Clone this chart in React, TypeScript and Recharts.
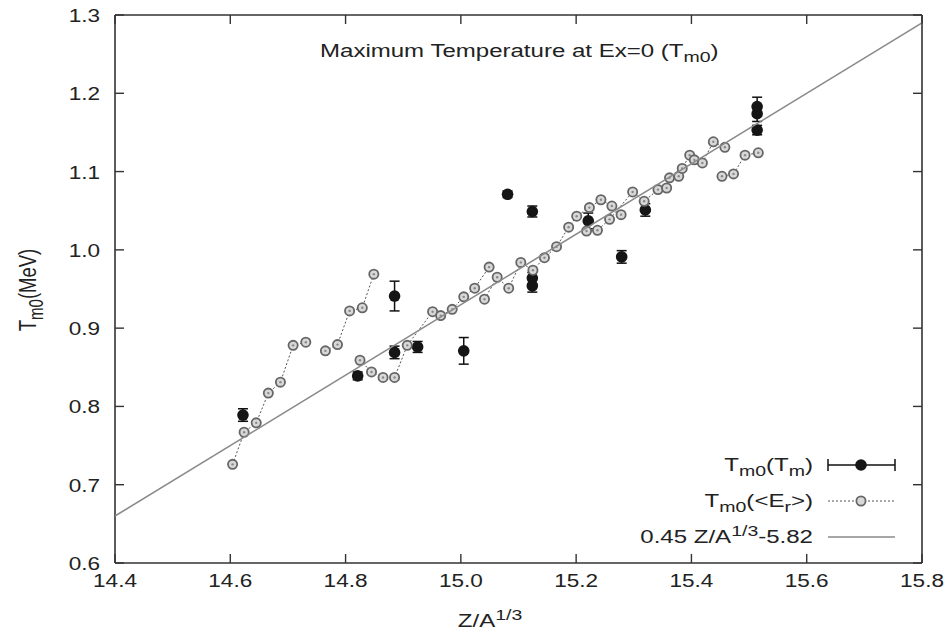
import React from 'react';
import { ScatterChart, Scatter, XAxis, YAxis, ErrorBar } from 'recharts';

document.body.style.margin = '0';

// Tm0 from Tm (closed points with error bars)
const tmX = [14.622, 14.821, 14.885, 14.885, 14.925, 15.005, 15.081, 15.124, 15.124, 15.124, 15.221, 15.279, 15.32, 15.514, 15.514, 15.514];
const tmY = [0.789, 0.839, 0.941, 0.869, 0.876, 0.871, 1.071, 1.049, 0.964, 0.954, 1.037, 0.991, 1.051, 1.183, 1.174, 1.153];
const tmErr = [0.008, 0.005, 0.019, 0.008, 0.007, 0.017, 0.004, 0.007, 0.007, 0.008, 0.01, 0.008, 0.008, 0.012, 0.01, 0.006];

// Tm0 from <Er> (open points, joined isotope chains)
const chainA = [[14.604, 0.726], [14.624, 0.767], [14.645, 0.779], [14.666, 0.817], [14.687, 0.831], [14.709, 0.878], [14.731, 0.882]];
const chainB = [[14.765, 0.871], [14.786, 0.879], [14.807, 0.922], [14.829, 0.926], [14.849, 0.969]];
const chainC = [[14.825, 0.859], [14.845, 0.844], [14.865, 0.837], [14.885, 0.837], [14.907, 0.878], [14.951, 0.921], [14.965, 0.916], [14.985, 0.924], [15.005, 0.94], [15.024, 0.951], [15.049, 0.978]];
const chainD = [[15.041, 0.937], [15.063, 0.965], [15.083, 0.951], [15.104, 0.984], [15.125, 0.974], [15.145, 0.99], [15.166, 1.004], [15.187, 1.029], [15.201, 1.043], [15.223, 1.054], [15.243, 1.064], [15.262, 1.056], [15.278, 1.045]];
const chainE = [[15.218, 1.024], [15.237, 1.025], [15.258, 1.039], [15.298, 1.074], [15.318, 1.062], [15.342, 1.077], [15.357, 1.079], [15.362, 1.092], [15.378, 1.094], [15.384, 1.104], [15.397, 1.121], [15.405, 1.115], [15.419, 1.111], [15.438, 1.138], [15.458, 1.131]];
const chainF = [[15.453, 1.094], [15.473, 1.097], [15.493, 1.121], [15.516, 1.124]];

// 0.45 Z/A^1/3 - 5.82 end points
const fitLine = [[14.4, 0.66], [15.8, 1.29]];

const xTicks = [14.4, 14.6, 14.8, 15.0, 15.2, 15.4, 15.6, 15.8];
const yTicks = [0.6, 0.7, 0.8, 0.9, 1.0, 1.1, 1.2, 1.3];

const closedData = tmX.map((x, i) => ({ x, y: tmY[i], err: tmErr[i] }));
const toPts = (arr: number[][]) => arr.map(([x, y]) => ({ x, y }));
const chains = [chainA, chainB, chainC, chainD, chainE, chainF].map(toPts);

const FONT = '"Liberation Sans", Arial, Helvetica, sans-serif';
const FS = 18.5;
const TICK = 9;
const FRAME = '#333';

function Txt({ x, y, anchor = 'start', rotate = 0, sx = 1.22, size = FS, children }: any) {
  const scale = rotate ? `scale(1,${sx})` : `scale(${sx},1)`;
  return (
    <text
      transform={`translate(${x},${y})${rotate ? ` rotate(${rotate})` : ''} ${scale}`}
      textAnchor={anchor}
      fontSize={size}
      fontFamily={FONT}
      fill="#222"
    >
      {children}
    </text>
  );
}

function BottomTick(props: any) {
  const { x, y, payload } = props;
  return (
    <g>
      <line x1={x} y1={y} x2={x} y2={y - TICK} stroke={FRAME} strokeWidth={1.4} />
      <Txt x={x} y={y + 24} anchor="middle">{Number(payload.value).toFixed(1)}</Txt>
    </g>
  );
}
function TopTick(props: any) {
  const { x, y } = props;
  return <line x1={x} y1={y} x2={x} y2={y + TICK} stroke={FRAME} strokeWidth={1.4} />;
}
function LeftTick(props: any) {
  const { x, y, payload } = props;
  return (
    <g>
      <line x1={x} y1={y} x2={x + TICK} y2={y} stroke={FRAME} strokeWidth={1.4} />
      <Txt x={x - 15} y={y + 7} anchor="end">{Number(payload.value).toFixed(1)}</Txt>
    </g>
  );
}
function RightTick(props: any) {
  const { x, y } = props;
  return <line x1={x} y1={y} x2={x - TICK} y2={y} stroke={FRAME} strokeWidth={1.4} />;
}

const ClosedDot = (p: any) => <circle cx={p.cx} cy={p.cy} r={5.8} fill="#151515" />;
const OpenDot = (p: any) => (
  <g>
    <circle cx={p.cx} cy={p.cy} r={4.6} fill="#d8d8d8" stroke="#666" strokeWidth={1.8} />
    <circle cx={p.cx} cy={p.cy} r={1.2} fill="#888" />
  </g>
);
const NoDot = () => <g />;

const axisLine = { stroke: FRAME, strokeWidth: 1.6 };

export default function App() {
  return (
    <div style={{ position: 'relative', width: 951, height: 636, background: '#fff' }}>
      <ScatterChart width={951} height={636} margin={{ top: 0, right: 0, bottom: 0, left: 0 }}>
        <XAxis xAxisId="b" type="number" dataKey="x" orientation="bottom" domain={[14.4, 15.8]} ticks={xTicks}
          height={73} tickSize={0} tickMargin={0} tickLine={false} tick={<BottomTick />} axisLine={axisLine} allowDataOverflow />
        <XAxis xAxisId="t" type="number" dataKey="x" orientation="top" domain={[14.4, 15.8]} ticks={xTicks}
          height={15} tickSize={0} tickMargin={0} tickLine={false} tick={<TopTick />} axisLine={axisLine} allowDataOverflow />
        <YAxis yAxisId="l" type="number" dataKey="y" orientation="left" domain={[0.6, 1.3]} ticks={yTicks}
          width={115} tickSize={0} tickMargin={0} tickLine={false} tick={<LeftTick />} axisLine={axisLine} allowDataOverflow />
        <YAxis yAxisId="r" type="number" dataKey="y" orientation="right" domain={[0.6, 1.3]} ticks={yTicks}
          width={29} tickSize={0} tickMargin={0} tickLine={false} tick={<RightTick />} axisLine={axisLine} allowDataOverflow />

        <Scatter xAxisId="b" yAxisId="l" data={closedData} shape={ClosedDot} isAnimationActive={false}>
          <ErrorBar dataKey="err" direction="y" width={5} stroke="#111" strokeWidth={1.5} />
        </Scatter>
        {chains.map((c, i) => (
          <Scatter key={i} xAxisId="b" yAxisId="l" data={c} shape={OpenDot} isAnimationActive={false}
            line={{ stroke: '#555', strokeWidth: 1, strokeDasharray: '2 2' }} />
        ))}
        <Scatter xAxisId="b" yAxisId="l" data={toPts(fitLine)} shape={NoDot} isAnimationActive={false}
          line={{ stroke: '#8a8a8a', strokeWidth: 1.6 }} />
      </ScatterChart>

      <svg width={951} height={636} style={{ position: 'absolute', left: 0, top: 0, pointerEvents: 'none' }}>
        <Txt x={320} y={57} sx={1.3}>
          Maximum Temperature at Ex=0 (T<tspan dy={5} fontSize={15}>m0</tspan><tspan dy={-5}>)</tspan>
        </Txt>
        <Txt x={36} y={290} anchor="middle" rotate={-90} sx={1.3}>
          T<tspan dy={5} fontSize={15}>m0</tspan><tspan dy={-5}>(MeV)</tspan>
        </Txt>
        <Txt x={490} y={627} anchor="middle" sx={1.3}>
          Z/A<tspan dy={-7} fontSize={15}>1/3</tspan>
        </Txt>

        <Txt x={813} y={471} anchor="end" sx={1.3}>
          T<tspan dy={5} fontSize={15}>m0</tspan><tspan dy={-5}>(T</tspan><tspan dy={5} fontSize={15}>m</tspan><tspan dy={-5}>)</tspan>
        </Txt>
        <line x1={828} y1={465} x2={895} y2={465} stroke="#111" strokeWidth={1.5} />
        <line x1={828} y1={459} x2={828} y2={471} stroke="#111" strokeWidth={1.5} />
        <line x1={895} y1={459} x2={895} y2={471} stroke="#111" strokeWidth={1.5} />
        <circle cx={861} cy={465} r={5.8} fill="#151515" />

        <Txt x={813} y={507} anchor="end" sx={1.3}>
          T<tspan dy={5} fontSize={15}>m0</tspan><tspan dy={-5}>(&lt;E</tspan><tspan dy={5} fontSize={15}>r</tspan><tspan dy={-5}>&gt;)</tspan>
        </Txt>
        <line x1={828} y1={501} x2={895} y2={501} stroke="#555" strokeWidth={1} strokeDasharray="2 2" />
        <circle cx={861} cy={501} r={4.6} fill="#d8d8d8" stroke="#666" strokeWidth={1.8} />

        <Txt x={813} y={543} anchor="end" sx={1.3}>
          0.45 Z/A<tspan dy={-7} fontSize={15}>1/3</tspan><tspan dy={7}>-5.82</tspan>
        </Txt>
        <line x1={828} y1={537} x2={895} y2={537} stroke="#8a8a8a" strokeWidth={1.6} />
      </svg>
    </div>
  );
}
